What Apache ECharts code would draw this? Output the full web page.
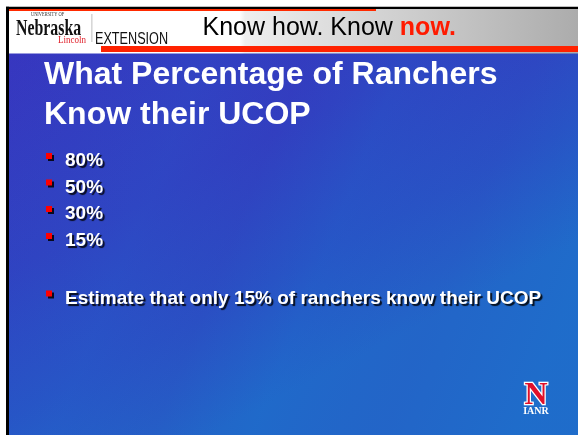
<!DOCTYPE html>
<html><head><meta charset="utf-8">
<script src="https://cdn.jsdelivr.net/npm/echarts@6/dist/echarts.min.js"></script>
<style>html,body{margin:0;padding:0;background:#fff;overflow:hidden}#c{width:578px;height:435px}</style>
</head><body><div id="c"></div>
<script>
// Slide content
const titleLines = ['What Percentage of Ranchers', 'Know their UCOP'];
const bulletValues = ['80%', '50%', '30%', '15%'];
const conclusion = 'Estimate that only 15% of ranchers know their UCOP';
const taglineRegular = 'Know how. Know ';
const taglineBold = 'now.';
const logoWords = ['Nebraska', 'UNIVERSITY OF', 'Lincoln', 'EXTENSION'];
const cornerLogo = ['N', 'IANR'];

const chart = echarts.init(document.getElementById('c'), null, {renderer: 'canvas'});
const W = 578, H = 435;
const shadow = {textShadowColor: 'rgba(0,0,0,0.85)', textShadowOffsetX: 2, textShadowOffsetY: 2, textShadowBlur: 1};
const g = [];

// background body
g.push({type: 'rect', shape: {x: 9, y: 53, width: W - 9, height: H - 53}, z: 1,
  style: {fill: new echarts.graphic.LinearGradient(0, 0, 0.35, 1, [
    {offset: 0, color: '#3736bf'}, {offset: 0.45, color: '#3042c1'},
    {offset: 0.75, color: '#2755c5'}, {offset: 1, color: '#1f6cc9'}])}});
// very faint diagonal texture
g.push({type: 'rect', shape: {x: 9, y: 53, width: W - 9, height: H - 53}, z: 2,
  style: {fill: new echarts.graphic.LinearGradient(0, 0, 1, 0.6, [
    {offset: 0, color: 'rgba(40,80,200,0)'}, {offset: 0.3, color: 'rgba(40,90,205,0.18)'},
    {offset: 0.45, color: 'rgba(60,45,185,0.15)'}, {offset: 0.6, color: 'rgba(35,95,205,0.18)'},
    {offset: 0.8, color: 'rgba(60,50,190,0.12)'}, {offset: 1, color: 'rgba(30,110,210,0.15)'}])}});

// header
g.push({type: 'rect', shape: {x: 9, y: 9, width: W - 9, height: 44.5}, z: 3,
  style: {fill: new echarts.graphic.LinearGradient(0, 0, 1, 0, [
    {offset: 0, color: '#ffffff'}, {offset: 0.405, color: '#ffffff'}, {offset: 0.415, color: '#eeeeee'}, {offset: 1, color: '#acacac'}])}});
// black frame
g.push({type: 'rect', shape: {x: 6, y: 6.7, width: W - 6, height: 2.3}, z: 5, style: {fill: '#000'}});
g.push({type: 'rect', shape: {x: 6, y: 6.7, width: 3, height: H - 6.7}, z: 5, style: {fill: '#000'}});
// red lines
g.push({type: 'rect', shape: {x: 9, y: 9, width: 367, height: 2}, z: 4, style: {fill: '#ff2a00'}});
g.push({type: 'rect', shape: {x: 101, y: 46, width: W - 101, height: 6}, z: 4, style: {fill: '#ff2200'}});
// separator
g.push({type: 'rect', shape: {x: 91.5, y: 14, width: 0.8, height: 28}, z: 4, style: {fill: '#b0b0b0'}});

// logo text
g.push({type: 'text', x: 16, y: 28.5, scaleX: 0.66, z: 6, style: {text: logoWords[0], fill: '#111', fontFamily: 'Liberation Serif', fontSize: 24, fontWeight: 'bold', verticalAlign: 'middle'}});
g.push({type: 'text', x: 31, y: 14.5, scaleX: 0.8, z: 7, style: {text: logoWords[1], fill: '#333', fontFamily: 'Liberation Serif', fontSize: 5.5, verticalAlign: 'middle'}});
g.push({type: 'text', x: 58, y: 40.3, scaleX: 0.82, z: 6, style: {text: logoWords[2], fill: '#e0202a', fontFamily: 'Liberation Serif', fontSize: 11, verticalAlign: 'middle'}});
g.push({type: 'text', x: 95, y: 39.8, scaleX: 0.79, z: 6, style: {text: logoWords[3], fill: '#111', fontFamily: 'Liberation Sans', fontSize: 16, verticalAlign: 'middle'}});

// tagline
g.push({type: 'text', x: 202.5, y: 28.5, z: 6, style: {
  text: '{a|' + taglineRegular + '}{b|' + taglineBold + '}', verticalAlign: 'middle',
  rich: {a: {fontFamily: 'Liberation Sans', fontSize: 25, fill: '#000', color: '#000'},
         b: {fontFamily: 'Liberation Sans', fontSize: 25, fontWeight: 'bold', fill: '#ff1a00', color: '#ff1a00'}}}});

// title
titleLines.forEach((t, i) => g.push({type: 'text', x: 44, y: 75 + i * 40, z: 6, style: {
  text: t, fill: '#fff', fontFamily: 'Liberation Sans', fontWeight: 'bold', fontSize: 32, verticalAlign: 'middle'}}));

// bullets
const bulletBase = [167, 193.5, 220, 247];
function bullet(label, baseline) {
  g.push({type: 'rect', shape: {x: 46, y: baseline - 14, width: 6, height: 6}, z: 6,
    style: {fill: '#ff0000', shadowColor: 'rgba(0,0,0,0.85)', shadowOffsetX: 2, shadowOffsetY: 2, shadowBlur: 0}});
  g.push({type: 'text', x: 65, y: baseline - 6, z: 6, style: Object.assign({
    text: label, fill: '#fff', fontFamily: 'Liberation Sans', fontWeight: 'bold', fontSize: 19, verticalAlign: 'middle'}, shadow)});
}
bulletValues.forEach((v, i) => bullet(v, bulletBase[i]));
bullet(conclusion, 304.5);

// corner logo
g.push({type: 'text', x: 536, y: 396, z: 6, style: {text: cornerLogo[0], fill: '#e0102a', stroke: '#fff', lineWidth: 2.5,
  fontFamily: 'Liberation Serif', fontWeight: 'bold', fontSize: 32, align: 'center', verticalAlign: 'middle'}});
g.push({type: 'text', x: 536, y: 411, z: 6, style: {text: cornerLogo[1], fill: '#fff',
  fontFamily: 'Liberation Serif', fontWeight: 'bold', fontSize: 10, align: 'center', verticalAlign: 'middle'}});

chart.setOption({animation: false, graphic: {elements: g}});
</script></body></html>
